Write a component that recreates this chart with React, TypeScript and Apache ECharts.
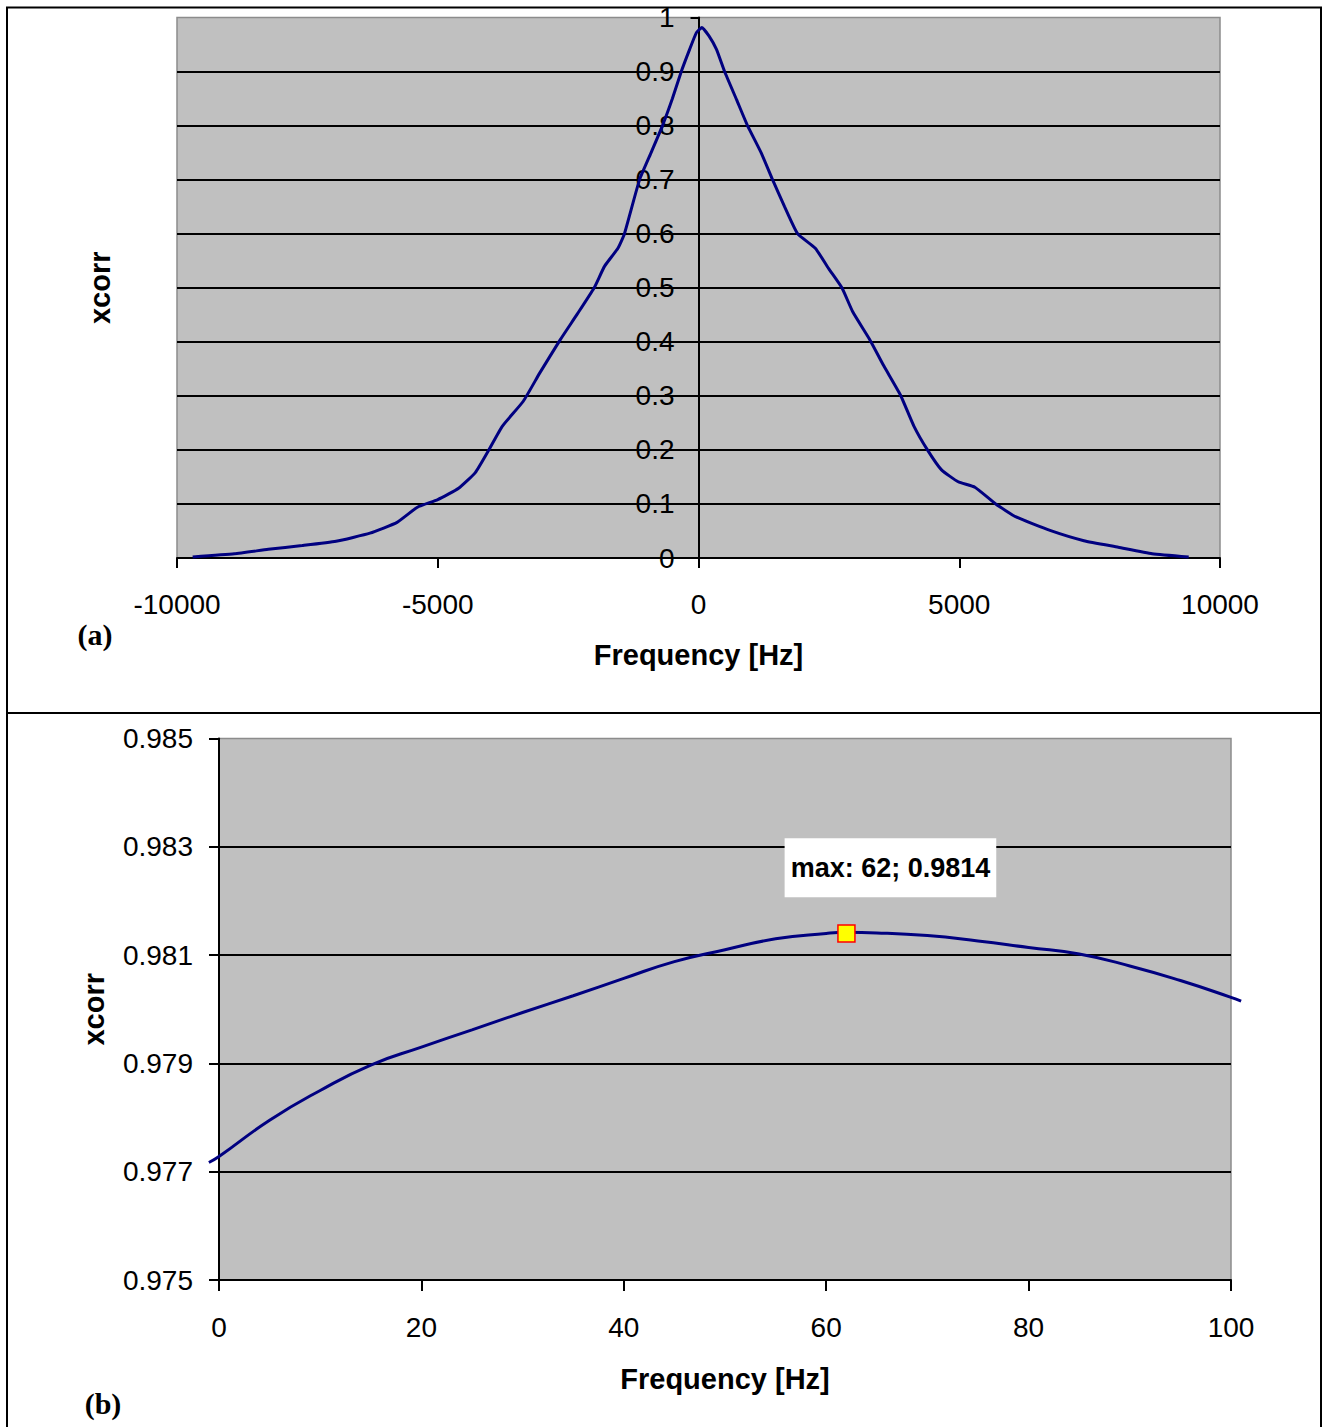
import React, { useEffect, useRef } from "react";
import * as echarts from "echarts";

// ---- Chart (a): full cross-correlation ----
const freqA = [
  -9700, -8900, -8250, -7600, -6950, -6300, -5780, -5390, -5000, -4600, -4280, -4020, -3760, -3360,
  -3040, -2650, -2320, -2000, -1800, -1545, -1420, -1130, -900, -690, -500, -330, -170, -40, 62,
  200, 345, 500, 730, 940, 1200, 1420, 1650, 1900, 2240, 2500, 2750, 2960, 3290, 3550, 3870, 4130,
  4390, 4660, 4980, 5300, 5700, 6090, 6740, 7390, 8050, 8700, 9400,
];
const xcorrA = [
  0.002, 0.008, 0.016, 0.023, 0.031, 0.046, 0.066, 0.094, 0.108, 0.129, 0.158, 0.2, 0.244, 0.29,
  0.343, 0.404, 0.452, 0.5, 0.54, 0.573, 0.6, 0.7, 0.752, 0.8, 0.85, 0.9, 0.941, 0.972, 0.9814,
  0.966, 0.941, 0.9, 0.848, 0.8, 0.75, 0.7, 0.65, 0.6, 0.573, 0.535, 0.5, 0.455, 0.403, 0.356,
  0.302, 0.244, 0.2, 0.163, 0.141, 0.131, 0.1, 0.076, 0.051, 0.032, 0.02, 0.008, 0.002,
];

// ---- Chart (b): zoom around the peak ----
const freqB = [-1, 0, 5, 10, 15, 20, 25, 30, 35, 40, 45, 50, 55, 60, 62, 65, 70, 75, 80, 85, 90, 95, 100, 101];
const xcorrB = [
  0.97717, 0.97728, 0.97795, 0.9785, 0.97897, 0.9793, 0.97962, 0.97994, 0.98025, 0.98057, 0.98088,
  0.9811, 0.9813, 0.9814, 0.98142, 0.98141, 0.98136, 0.98126, 0.98114, 0.98102, 0.9808, 0.98053,
  0.98022, 0.98015,
];
const maxFreq = 62;
const maxXcorr = 0.9814;

// axis ranges
const xRangeA = [-10000, 10000, 5000];
const yRangeA = [0, 1, 0.1];
const xRangeB = [0, 100, 20];
const yRangeB = [0.975, 0.985, 0.002];
// the (b) curve runs slightly past the plot edges: drawn on an overlay axis spanning this range
const xOverB = [-1, 101];

const xName = "Frequency [Hz]";
const yName = "xcorr";

const LABEL_FONT = "'Liberation Sans', Arial, sans-serif";

export default function App() {
  const ref = useRef<HTMLDivElement>(null);

  useEffect(() => {
    if (!ref.current) return;
    const chart = echarts.init(ref.current, null, { renderer: "svg" });

    const axisLabel = { fontSize: 28, fontFamily: LABEL_FONT, color: "#000", formatter: (v: number) => String(v) };
    const nameStyle = { fontSize: 29, fontFamily: LABEL_FONT, fontWeight: "bold", color: "#000" };
    const axisLine = { show: true, onZero: false, lineStyle: { color: "#000", width: 2 } };
    const tick = (len: number) => ({ show: true, inside: false, length: len, lineStyle: { color: "#000", width: 2 } });
    const gridLines = { show: true, showMinLine: false, showMaxLine: false, lineStyle: { color: "#000", width: 2 } };

    const frameLine = (x1: number, y1: number, x2: number, y2: number) => ({
      type: "line",
      shape: { x1, y1, x2, y2 },
      style: { stroke: "#000", lineWidth: 2 },
      z: 100,
    });

    // plot (a) geometry; its y axis crosses at frequency 0
    const aLeft = 177, aWidth = 1043;
    const yAxisShiftA = ((0 - xRangeA[0]) / (xRangeA[1] - xRangeA[0])) * aWidth;

    // plot (b) geometry
    const bLeft = 219, bWidth = 1012, bTop = 738.5, bHeight = 541.5;
    const pxPerHz = bWidth / (xRangeB[1] - xRangeB[0]);
    const oLeft = bLeft + (xOverB[0] - xRangeB[0]) * pxPerHz;
    const oWidth = (xOverB[1] - xOverB[0]) * pxPerHz;

    chart.setOption({
      animation: false,
      backgroundColor: "#fff",
      grid: [
        {
          left: aLeft, top: 17.5, width: aWidth, height: 540.5, outerBoundsMode: "none", containLabel: false,
          show: true, backgroundColor: "#c0c0c0", borderColor: "#8c8c8c", borderWidth: 1.5,
        },
        {
          left: bLeft, top: bTop, width: bWidth, height: bHeight, outerBoundsMode: "none", containLabel: false,
          show: true, backgroundColor: "#c0c0c0", borderColor: "#8c8c8c", borderWidth: 1.5,
        },
        {
          left: oLeft, top: bTop, width: oWidth, height: bHeight, outerBoundsMode: "none", containLabel: false,
          show: false,
        },
      ],
      xAxis: [
        {
          type: "value", gridIndex: 0,
          min: xRangeA[0], max: xRangeA[1], interval: xRangeA[2],
          axisLine, axisTick: tick(10), splitLine: { show: false },
          axisLabel: { ...axisLabel, margin: 32 },
          name: xName, nameLocation: "middle", nameGap: 82, nameTextStyle: nameStyle,
        },
        {
          type: "value", gridIndex: 1,
          min: xRangeB[0], max: xRangeB[1], interval: xRangeB[2],
          axisLine, axisTick: tick(11), splitLine: { show: false },
          axisLabel: { ...axisLabel, margin: 33 },
          name: xName, nameLocation: "middle", nameGap: 84, nameTextStyle: nameStyle,
        },
        {
          type: "value", gridIndex: 2, show: false,
          min: xOverB[0], max: xOverB[1],
        },
      ],
      yAxis: [
        {
          type: "value", gridIndex: 0, position: "left", offset: -yAxisShiftA,
          min: yRangeA[0], max: yRangeA[1], interval: yRangeA[2],
          axisLine, axisTick: tick(8), splitLine: gridLines,
          axisLabel: { ...axisLabel, margin: 24 },
          name: yName, nameLocation: "middle", nameGap: 584, nameTextStyle: nameStyle,
        },
        {
          type: "value", gridIndex: 1,
          min: yRangeB[0], max: yRangeB[1], interval: yRangeB[2],
          axisLine, axisTick: tick(10), splitLine: gridLines,
          axisLabel: { ...axisLabel, margin: 26 },
          name: yName, nameLocation: "middle", nameGap: 111, nameTextStyle: nameStyle,
        },
        {
          type: "value", gridIndex: 2, show: false,
          min: yRangeB[0], max: yRangeB[1],
        },
      ],
      series: [
        {
          type: "line", xAxisIndex: 0, yAxisIndex: 0,
          data: freqA.map((f, i) => [f, xcorrA[i]]),
          showSymbol: false, smooth: 0.15,
          lineStyle: { color: "#000080", width: 3 },
          z: 5,
        },
        {
          type: "line", xAxisIndex: 2, yAxisIndex: 2,
          data: freqB.map((f, i) => [f, xcorrB[i]]),
          showSymbol: false, smooth: true, clip: false,
          lineStyle: { color: "#000080", width: 3 },
          z: 5,
        },
        {
          type: "scatter", xAxisIndex: 1, yAxisIndex: 1,
          data: [[maxFreq, maxXcorr]],
          symbol: "rect", symbolSize: 17,
          itemStyle: { color: "#ffff00", borderColor: "#ff0000", borderWidth: 1.5, opacity: 1 },
          label: {
            show: true,
            position: "top",
            distance: 27,
            offset: [44, 0],
            formatter: () => `max: ${maxFreq}; ${maxXcorr}`,
            backgroundColor: "#fff",
            padding: [16, 6, 16, 6],
            fontSize: 27,
            fontWeight: "bold",
            fontFamily: LABEL_FONT,
            color: "#000",
          },
          z: 10,
        },
      ],
      graphic: [
        frameLine(6, 7.5, 1322, 7.5),
        frameLine(7, 7, 7, 1427),
        frameLine(1321, 7, 1321, 1427),
        frameLine(6, 713, 1322, 713),
        {
          type: "text", x: 95, y: 634, z: 100,
          style: {
            text: "(a)", fill: "#000", fontSize: 30, fontWeight: "bold",
            fontFamily: "'Liberation Serif', 'Times New Roman', serif",
            align: "center", verticalAlign: "middle",
          },
        },
        {
          type: "text", x: 103, y: 1403, z: 100,
          style: {
            text: "(b)", fill: "#000", fontSize: 30, fontWeight: "bold",
            fontFamily: "'Liberation Serif', 'Times New Roman', serif",
            align: "center", verticalAlign: "middle",
          },
        },
      ],
    });

    return () => chart.dispose();
  }, []);

  return (
    <div
      ref={ref}
      style={{ position: "absolute", left: 0, top: 0, width: 1322, height: 1427 }}
    />
  );
}
